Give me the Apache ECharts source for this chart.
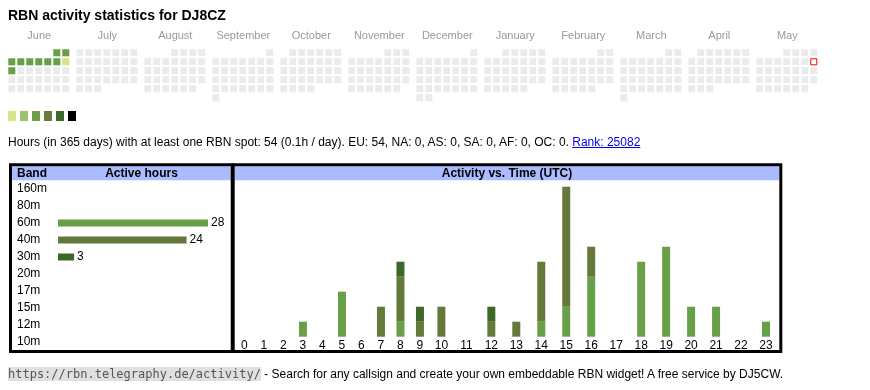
<!DOCTYPE html>
<html><head><meta charset="utf-8">
<script src="https://cdn.jsdelivr.net/npm/echarts@6/dist/echarts.min.js"></script>
<style>
html,body{margin:0;padding:0;background:#fff;width:870px;height:390px;overflow:hidden;}
#chart{position:absolute;left:0;top:0;width:870px;height:390px;}
.txt{position:absolute;font-family:"Liberation Sans",Arial,sans-serif;white-space:nowrap;color:#000;}
#info{left:8px;top:135px;font-size:12px;line-height:14px;}
#info a{color:#0000ee;text-decoration:underline;}
#foot{left:8px;top:366px;font-size:12px;line-height:16px;}
#foot code{font-family:"DejaVu Sans Mono",monospace;font-size:12px;background:#e0e0e0;color:#555;}
</style></head><body>
<div id="chart"></div>
<div id="info" class="txt">Hours (in 365 days) with at least one RBN spot: 54 (0.1h / day). EU: 54, NA: 0, AS: 0, SA: 0, AF: 0, OC: 0. <a href="#">Rank: 25082</a></div>
<div id="foot" class="txt"><code>https://rbn.telegraphy.de/activity/</code> - Search for any callsign and create your own embeddable RBN widget! A free service by DJ5CW.</div>
<script>
// ---------- data ----------
const titleText = 'RBN activity statistics for DJ8CZ';
const months = ['2024-06','2024-07','2024-08','2024-09','2024-10','2024-11','2024-12','2025-01','2025-02','2025-03','2025-04','2025-05'];
const monthNames = ['June','July','August','September','October','November','December','January','February','March','April','May'];
const activeDays = ['2024-06-01','2024-06-02','2024-06-03','2024-06-04','2024-06-05','2024-06-06','2024-06-07','2024-06-08','2024-06-09','2024-06-10'];
const activeLevels = [3,3,3,3,3,3,3,3,1,3];
const todayDate = '2025-05-11';
const levelColors = ['#dbe38a','#9dc26b','#68a048','#677c3d','#3c6a28','#000000'];

const bands = ['160m','80m','60m','40m','30m','20m','17m','15m','12m','10m'];
const bandHours = [0,0,28,24,3,0,0,0,0,0];
const bandColors = ['#dbe38a','#9dc26b','#68a048','#657a3a','#3c6828','#2a4a1c','#88aa55','#556b2f','#99bb77','#445533'];

const hours = ['0','1','2','3','4','5','6','7','8','9','10','11','12','13','14','15','16','17','18','19','20','21','22','23'];
const hours60m = [0,0,0,1,0,3,0,0,1,0,0,0,0,0,1,2,4,0,5,6,2,2,0,1];
const hours40m = [0,0,0,0,0,0,0,2,3,1,2,0,1,1,4,8,2,0,0,0,0,0,0,0];
const hours30m = [0,0,0,0,0,0,0,0,1,1,0,0,1,0,0,0,0,0,0,0,0,0,0,0];

// ---------- layout ----------
const FONT = '"Liberation Sans", Arial, sans-serif';
const CAL_LEFT = 7.3, CAL_TOP = 48.3, CAL_STEP = 68, CELL = 9;
const HEAD = '#aabbff';

const calendars = months.map((m, i) => ({
  orient: 'vertical', range: m,
  cellSize: [CELL, CELL], left: CAL_LEFT + i * CAL_STEP, top: CAL_TOP,
  splitLine: {show: false},
  itemStyle: {color: '#ebebeb', borderColor: '#ffffff', borderWidth: 2},
  dayLabel: {show: false, firstDay: 1}, monthLabel: {show: false}, yearLabel: {show: false}
}));

const graphics = [];
graphics.push({type: 'text', x: 8, y: 16, style: {text: titleText, font: 'bold 14px ' + FONT, fill: '#000', verticalAlign: 'middle'}});
monthNames.forEach((n, i) => graphics.push({type: 'text', x: CAL_LEFT + 1 + i * CAL_STEP + 31, y: 36,
  style: {text: n, font: '11px ' + FONT, fill: '#9a9a9a', align: 'center', verticalAlign: 'middle'}}));
levelColors.forEach((c, i) => graphics.push({type: 'rect', shape: {x: 8 + 12 * i, y: 111, width: 8, height: 10}, style: {fill: c}}));
// boxes and headers
graphics.push({type: 'rect', shape: {x: 12, y: 166.3, width: 218.7, height: 14}, style: {fill: HEAD}});
graphics.push({type: 'rect', shape: {x: 234.7, y: 166.3, width: 544.6, height: 14}, style: {fill: HEAD}});
graphics.push({type: 'rect', shape: {x: 10.5, y: 164.8, width: 221.7, height: 186.7}, style: {fill: 'none', stroke: '#000', lineWidth: 3}});
graphics.push({type: 'rect', shape: {x: 233.2, y: 164.8, width: 547.6, height: 186.7}, style: {fill: 'none', stroke: '#000', lineWidth: 3}});
graphics.push({type: 'text', x: 17, y: 173.5, style: {text: 'Band', font: 'bold 12px ' + FONT, fill: '#000', verticalAlign: 'middle'}});
graphics.push({type: 'text', x: 141.5, y: 173.5, style: {text: 'Active hours', font: 'bold 12px ' + FONT, fill: '#000', align: 'center', verticalAlign: 'middle'}});
graphics.push({type: 'text', x: 507, y: 173.5, style: {text: 'Activity vs. Time (UTC)', font: 'bold 12px ' + FONT, fill: '#000', align: 'center', verticalAlign: 'middle'}});

const SPLIT = 10; // single-digit vs double-digit hour columns
const hourAxis = (idx, cats) => ({
  type: 'category', gridIndex: idx, data: cats,
  axisLine: {show: false}, axisTick: {show: false}, splitLine: {show: false},
  axisLabel: {interval: 0, margin: 3, fontSize: 12, color: '#000', fontFamily: FONT}
});
const valAxis = (idx) => ({type: 'value', gridIndex: idx, min: 0, max: 10, show: false});

const hourSeries = [];
[[0, 0, SPLIT, 'A'], [1, SPLIT, 24, 'B']].forEach(([g, a, b, st]) => {
  [['60m', hours60m, bandColors[2]], ['40m', hours40m, bandColors[3]], ['30m', hours30m, bandColors[4]]].forEach(([name, arr, col]) => {
    hourSeries.push({type: 'bar', name, stack: st, xAxisIndex: g, yAxisIndex: g, barWidth: 8,
      data: arr.slice(a, b), itemStyle: {color: col}});
  });
});

const option = {
  animation: false,
  backgroundColor: '#ffffff',
  textStyle: {fontFamily: FONT},
  calendar: calendars,
  grid: [
    {left: 234.7, top: 186.7, width: 195, height: 150},
    {left: 428.9, top: 186.7, width: 349.6, height: 150},
    {left: 58, top: 180.5, width: 150, height: 170}
  ],
  xAxis: [hourAxis(0, hours.slice(0, SPLIT)), hourAxis(1, hours.slice(SPLIT)),
    {type: 'value', gridIndex: 2, min: 0, max: 'dataMax', show: false}],
  yAxis: [valAxis(0), valAxis(1),
    {type: 'category', gridIndex: 2, inverse: true, data: bands,
     axisLine: {show: false}, axisTick: {show: false},
     axisLabel: {interval: 0, align: 'left', margin: 41, fontSize: 12, color: '#000', fontFamily: FONT}}],
  series: [
    {type: 'heatmap', coordinateSystem: 'calendar', calendarIndex: 0,
     data: activeDays.map((d, i) => ({value: [d, activeLevels[i]], itemStyle: {color: levelColors[activeLevels[i] - 1]}}))},
    {type: 'scatter', coordinateSystem: 'calendar', calendarIndex: 11, symbol: 'rect', symbolSize: 6,
     itemStyle: {color: '#ffffff', borderColor: '#ff0000', borderWidth: 1, opacity: 1}, data: [[todayDate, 1]]},
    {type: 'bar', xAxisIndex: 2, yAxisIndex: 2, barWidth: 7,
     data: bandHours.map((v, i) => ({value: v, itemStyle: {color: bandColors[i]}})),
     label: {show: true, position: 'right', distance: 3, fontSize: 12, color: '#000', fontFamily: FONT,
       formatter: p => p.value ? String(p.value) : ''}},
    ...hourSeries
  ],
  graphic: {elements: graphics}
};
const chart = echarts.init(document.getElementById('chart'), null, {renderer: 'canvas'});
chart.setOption(option);
</script>
</body></html>
